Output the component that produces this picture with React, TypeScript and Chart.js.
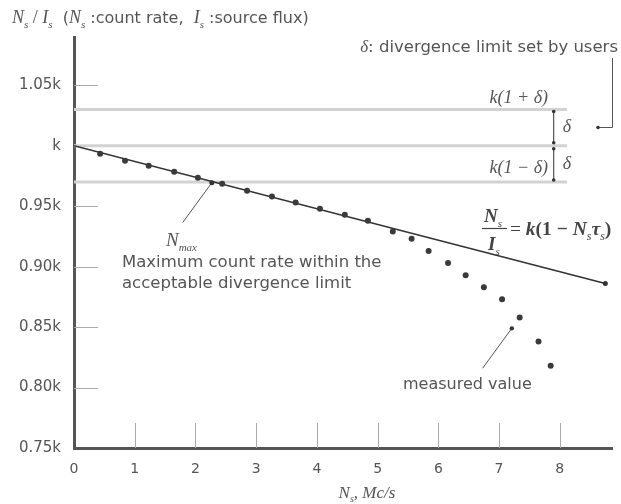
import React, { useEffect, useRef } from "react";
import { Chart, registerables } from "chart.js";
Chart.register(...registerables);

const xTicks = [0, 1, 2, 3, 4, 5, 6, 7, 8];
const yTicks = [0.75, 0.8, 0.85, 0.9, 0.95, 1.0, 1.05];
const yTickLabels = ["0.75k", "0.80k", "0.85k", "0.90k", "0.95k", "k", "1.05k"];
const delta = 0.03;
const theoryX = [0, 8.75];
const theoryY = [1, 0.886];
const measuredX = [0.43, 0.84, 1.23, 1.65, 2.04, 2.44, 2.85, 3.26, 3.65, 4.05, 4.46, 4.84, 5.25, 5.56, 5.84, 6.16, 6.45, 6.75, 7.05, 7.34, 7.65, 7.85];
const measuredY = [0.9934, 0.9876, 0.9835, 0.9786, 0.9736, 0.9686, 0.9629, 0.958, 0.953, 0.948, 0.943, 0.938, 0.929, 0.923, 0.913, 0.903, 0.893, 0.883, 0.873, 0.858, 0.838, 0.818];
const limitLevels = [1 + delta, 1, 1 - delta];
const limitEndX = 8.12;
const nmaxPoint = [2.27, 0.9695];
const nmaxLabelEnd = [1.79, 0.9365];
const measuredArrowPoint = [7.21, 0.849];
const measuredArrowEnd = [6.73, 0.816];
const bracketX = 7.9;

const TEXT = "#555";
const SANS = "'DejaVu Sans', sans-serif";
const SERIF = "'Liberation Serif', serif";

type Seg = { t: string; f: "i" | "s" | "sub" | "r" | "bi" | "br" };

function drawRich(ctx: CanvasRenderingContext2D, x: number, y: number, segs: Seg[], size: number, align: "left" | "right" | "center" = "left", serifSize?: number) {
  const ss = serifSize ?? size + 1;
  const fontFor = (f: string) =>
    f === "i"
      ? `italic ${ss}px ${SERIF}`
      : f === "bi"
      ? `bold italic ${ss}px ${SERIF}`
      : f === "br"
      ? `bold ${ss}px ${SERIF}`
      : f === "sub"
      ? `italic ${Math.round(ss * 0.6)}px ${SERIF}`
      : f === "r"
      ? `${ss}px ${SERIF}`
      : `${size}px ${SANS}`;
  let total = 0;
  segs.forEach((s) => {
    ctx.font = fontFor(s.f);
    total += ctx.measureText(s.t).width;
  });
  let cx = align === "left" ? x : align === "right" ? x - total : x - total / 2;
  ctx.textAlign = "left";
  ctx.textBaseline = "alphabetic";
  segs.forEach((s) => {
    ctx.font = fontFor(s.f);
    ctx.fillText(s.t, cx, s.f === "sub" ? y + ss * 0.25 : y);
    cx += ctx.measureText(s.t).width;
  });
}

const annotPlugin = {
  id: "annot",
  beforeDatasetsDraw(chart: any) {
    const { ctx, scales, chartArea: a } = chart;
    const xs = scales.x, ys = scales.y;
    ctx.save();
    ctx.strokeStyle = "#aaa";
    ctx.lineWidth = 1;
    yTicks.forEach((v) => {
      if (v === yTicks[0]) return;
      const py = Math.round(ys.getPixelForValue(v)) + 0.5;
      ctx.beginPath();
      ctx.moveTo(a.left, py);
      ctx.lineTo(a.left + 24, py);
      ctx.stroke();
    });
    xTicks.forEach((v) => {
      if (v === xTicks[0]) return;
      const px = Math.round(xs.getPixelForValue(v)) + 0.5;
      ctx.beginPath();
      ctx.moveTo(px, a.bottom);
      ctx.lineTo(px, a.bottom - 25);
      ctx.stroke();
    });
    ctx.restore();
  },
  afterDraw(chart: any) {
    const { ctx, scales } = chart;
    const xs = scales.x, ys = scales.y;
    const P = (p: number[]) => [xs.getPixelForValue(p[0]), ys.getPixelForValue(p[1])];
    const dot = (x: number, y: number, r = 2) => {
      ctx.beginPath();
      ctx.arc(x, y, r, 0, Math.PI * 2);
      ctx.fill();
    };
    const line = (x1: number, y1: number, x2: number, y2: number) => {
      ctx.beginPath();
      ctx.moveTo(x1, y1);
      ctx.lineTo(x2, y2);
      ctx.stroke();
    };
    ctx.save();
    ctx.fillStyle = "#333";
    ctx.strokeStyle = "#555";
    ctx.lineWidth = 1;

    // Nmax arrow
    const [n1x, n1y] = P(nmaxPoint);
    const [n2x, n2y] = P(nmaxLabelEnd);
    line(n1x, n1y, n2x, n2y);
    dot(n1x, n1y, 2.5);

    // measured value arrow
    const [m1x, m1y] = P(measuredArrowPoint);
    const [m2x, m2y] = P(measuredArrowEnd);
    line(m1x, m1y, m2x, m2y);
    dot(m1x, m1y, 2.2);

    // delta bracket
    const bx = xs.getPixelForValue(bracketX);
    const yUp = ys.getPixelForValue(1 + delta);
    const yMid = ys.getPixelForValue(1);
    const yLo = ys.getPixelForValue(1 - delta);
    ctx.strokeStyle = "#333";
    line(bx, yUp + 1, bx, yMid - 3);
    line(bx, yMid + 3, bx, yLo - 1);
    dot(bx, yUp + 2, 1.8);
    dot(bx, yMid - 3, 1.8);
    dot(bx, yMid + 3, 1.8);
    dot(bx, yLo - 2, 1.8);

    // callout from top label
    ctx.strokeStyle = "#555";
    line(612.5, 58, 612.5, 127.5);
    line(612.5, 127.5, 598, 127.5);
    dot(598, 127.5, 1.8);

    ctx.fillStyle = TEXT;
    // delta labels
    ctx.font = `italic 18px ${SERIF}`;
    ctx.textAlign = "left";
    ctx.textBaseline = "middle";
    ctx.fillText("δ", bx + 9, (yUp + yMid) / 2);
    ctx.fillText("δ", bx + 9, (yMid + yLo) / 2);

    // k(1±δ)
    drawRich(ctx, 548, yUp - 7, [{ t: "k(1 + δ)", f: "i" }], 16, "right", 18);
    drawRich(ctx, 548, yMid + 27, [{ t: "k(1 − δ)", f: "i" }], 16, "right", 18);

    // top label
    drawRich(ctx, 618, 52, [{ t: "δ", f: "i" }, { t: ": divergence limit set by users", f: "s" }], 16.5, "right", 17);

    // title
    drawRich(
      ctx,
      12,
      23,
      [
        { t: "N", f: "i" },
        { t: "s", f: "sub" },
        { t: " / ", f: "r" },
        { t: "I", f: "i" },
        { t: "s", f: "sub" },
        { t: "  (", f: "s" },
        { t: "N", f: "i" },
        { t: "s", f: "sub" },
        { t: " :count rate,  ", f: "s" },
        { t: "I", f: "i" },
        { t: "s", f: "sub" },
        { t: " :source flux)", f: "s" },
      ],
      16,
      "left",
      18
    );

    // Nmax label
    drawRich(ctx, 166, 246, [{ t: "N", f: "i" }, { t: "max", f: "sub" }], 17, "left", 19);
    ctx.font = `16.5px ${SANS}`;
    ctx.textAlign = "left";
    ctx.textBaseline = "middle";
    ctx.fillText("Maximum count rate within the", 122, 263);
    ctx.fillText("acceptable divergence limit", 122, 284);
    ctx.font = `16px ${SANS}`;
    ctx.fillText("measured value", 403, 385);

    // formula
    ctx.fillStyle = "#444";
    drawRich(ctx, 484, 222, [{ t: "N", f: "bi" }, { t: "s", f: "sub" }], 18, "left", 19);
    ctx.strokeStyle = "#444";
    ctx.lineWidth = 1.2;
    line(482, 228.5, 507, 228.5);
    drawRich(ctx, 488, 250, [{ t: "I", f: "bi" }, { t: "s", f: "sub" }], 18, "left", 19);
    drawRich(
      ctx,
      510,
      235,
      [
        { t: "= ", f: "r" },
        { t: "k", f: "bi" },
        { t: "(1 − ", f: "br" },
        { t: "N", f: "bi" },
        { t: "s", f: "sub" },
        { t: "τ", f: "bi" },
        { t: "s", f: "sub" },
        { t: ")", f: "br" },
      ],
      18,
      "left",
      19.5
    );

    // x axis title
    ctx.fillStyle = TEXT;
    drawRich(ctx, 367, 498, [{ t: "N", f: "i" }, { t: "s", f: "sub" }, { t: ", Mc/s", f: "i" }], 16, "center", 17);
    ctx.restore();
  },
};

export default function App() {
  const ref = useRef<HTMLCanvasElement>(null);
  useEffect(() => {
    document.body.style.margin = "0";
    const limitSets = limitLevels.map((lv) => ({
      type: "line" as const,
      data: [
        { x: 0, y: lv },
        { x: limitEndX, y: lv },
      ],
      borderColor: "#d2d2d2",
      borderWidth: 3,
      pointRadius: 0,
      showLine: true,
      order: 3,
    }));
    const chart = new Chart(ref.current!, {
      type: "scatter",
      data: {
        datasets: [
          ...limitSets,
          {
            type: "line",
            data: theoryX.map((x, i) => ({ x, y: theoryY[i] })),
            borderColor: "#333",
            borderWidth: 1.6,
            pointRadius: [0, 2.5],
            pointBackgroundColor: "#333",
            pointBorderWidth: 0,
            showLine: true,
            order: 2,
          },
          {
            type: "scatter",
            data: measuredX.map((x, i) => ({ x, y: measuredY[i] })),
            backgroundColor: "#3a3a3a",
            borderWidth: 0,
            pointRadius: 3,
            order: 1,
          },
        ] as any,
      },
      options: {
        animation: false,
        responsive: false,
        layout: { padding: { top: 37, right: 9, left: 0, bottom: 0 } },
        plugins: { legend: { display: false }, tooltip: { enabled: false } },
        scales: {
          x: {
            type: "linear",
            min: 0,
            max: 8.86,
            afterFit: (s: any) => {
              s.height = 56;
            },
            afterBuildTicks: (s: any) => {
              s.ticks = xTicks.map((v) => ({ value: v }));
            },
            grid: { display: false, drawTicks: false },
            border: { display: true, color: "#555", width: 3 },
            ticks: {
              padding: 13,
              color: TEXT,
              font: { family: "DejaVu Sans", size: 14 },
              callback: (v: any) => String(v),
            },
          },
          y: {
            type: "linear",
            min: 0.75,
            max: 1.09,
            afterFit: (s: any) => {
              s.width = 74;
            },
            afterBuildTicks: (s: any) => {
              s.ticks = yTicks.map((v) => ({ value: v }));
            },
            grid: { display: false, drawTicks: false },
            border: { display: true, color: "#555", width: 3 },
            ticks: {
              padding: 13,
              color: TEXT,
              font: { family: "DejaVu Sans", size: 15 },
              callback: (v: any) => {
                const i = yTicks.findIndex((t) => Math.abs(t - v) < 1e-6);
                return i >= 0 ? yTickLabels[i] : "";
              },
            },
          },
        },
      },
      plugins: [annotPlugin],
    });
    return () => chart.destroy();
  }, []);
  return (
    <div style={{ position: "absolute", left: 0, top: 0, width: 621, height: 504, background: "#fff" }}>
      <canvas ref={ref} width={621} height={504} style={{ width: 621, height: 504, display: "block" }} />
    </div>
  );
}
